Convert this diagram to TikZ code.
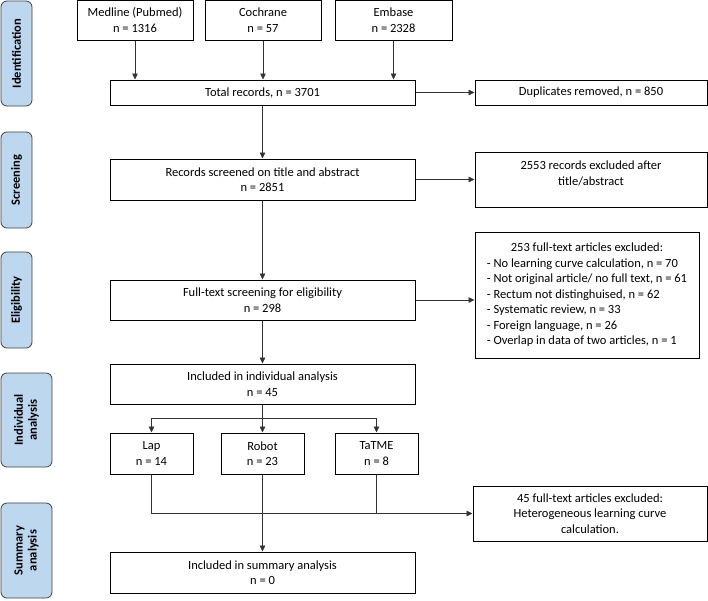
\documentclass[tikz,border=0pt]{standalone}
\usepackage{fontspec}
\setmainfont{Carlito}
\usetikzlibrary{arrows.meta}
\definecolor{stagefill}{RGB}{189,215,238}
\definecolor{stageline}{RGB}{64,64,64}

\begin{document}
\begin{tikzpicture}[x=1pt,y=-1pt,
    font=\fontsize{12.5}{15.5}\selectfont,
    box/.style={draw,line width=1pt,align=center,inner sep=1pt},
    stage/.style={draw=stageline,line width=0.8pt,fill=stagefill,rounded corners=6pt,
        rotate=90,align=center,inner sep=1pt,font=\fontsize{12.5}{14}\selectfont\bfseries},
    link/.style={draw=black!80,line width=0.6pt,-{Triangle[length=6pt,width=5.5pt]}},
    plain/.style={draw=black!80,line width=0.6pt}]
    \useasboundingbox (0,0) rectangle (708,600);

    \node[stage,minimum width=105,minimum height=31] (id) at (16.5,53.5) {Identification};
    \node[stage,minimum width=96,minimum height=31] (scr) at (16.5,180) {Screening};
    \node[stage,minimum width=96,minimum height=31] (elig) at (16.5,300) {Eligibility};
    \node[stage,minimum width=94,minimum height=51] (ind) at (26.5,420) {Individual\\analysis};
    \node[stage,minimum width=95,minimum height=51] (sum) at (26.5,550.5) {Summary\\analysis};

    \node[box,minimum width=116,minimum height=40] (medline) at (135,20) {Medline (Pubmed)\\n = 1316};
    \node[box,minimum width=116,minimum height=40] (cochrane) at (263,20) {Cochrane\\n = 57};
    \node[box,minimum width=117,minimum height=40] (embase) at (393.5,20) {Embase\\n = 2328};
    \node[box,minimum width=305,minimum height=25] (total) at (262.5,92.5) {Total records, n = 3701};
    \node[box,minimum width=232,minimum height=25] (dup) at (591,92.5) {Duplicates removed, n = 850};
    \node[box,minimum width=305,minimum height=41] (screen) at (262.5,179.5) {Records screened on title and abstract\\n = 2851};
    \node[box,minimum width=232,minimum height=55] (excla) at (591,179.5) {2553 records excluded after\\title/abstract\rule[-13pt]{0pt}{13pt}};
    \node[box,minimum width=305,minimum height=40] (full) at (262.5,300) {Full-text screening for eligibility\\n = 298};
    \node[box,minimum width=224,minimum height=126] (exclb) at (587,295) {%
        \begin{tabular}{@{}l@{}}
        \multicolumn{1}{@{}c@{}}{253 full-text articles excluded:}\\
        - No learning curve calculation, n = 70\\
        - Not original article/ no full text, n = 61\\
        - Rectum not distinghuised, n = 62\\
        - Systematic review, n = 33\\
        - Foreign language, n = 26\\
        - Overlap in data of two articles, n = 1
        \end{tabular}};
    \node[box,minimum width=305,minimum height=40] (indiv) at (262.5,384) {Included in individual analysis\\n = 45};
    \node[box,minimum width=83,minimum height=41] (lap) at (151.5,453.5) {Lap\\n = 14};
    \node[box,minimum width=83,minimum height=41] (robot) at (262.5,453.5) {Robot\\n = 23};
    \node[box,minimum width=83,minimum height=41] (tatme) at (376.5,453.5) {TaTME\\n = 8};
    \node[box,minimum width=234,minimum height=55] (exclc) at (590,513.5) {45 full-text articles excluded:\\Heterogeneous learning curve\\calculation.};
    \node[box,minimum width=305,minimum height=41] (summary) at (262.5,572.5) {Included in summary analysis\\n = 0};

    \draw[link] (medline) -- (medline.south |- total.north);
    \draw[link] (cochrane) -- (cochrane.south |- total.north);
    \draw[link] (embase) -- (embase.south |- total.north);
    \draw[link] (total) -- (dup);
    \draw[link] (total) -- (screen);
    \draw[link] (screen) -- (excla.west |- screen.east);
    \draw[link] (screen) -- (full);
    \draw[link] (full.east) -- (full.east -| exclb.west);
    \draw[link] (full) -- (indiv);

    \coordinate (split) at (262.5,418);
    \draw[link] (indiv) -- (robot);
    \draw[link] (split) -| (lap.north);
    \draw[link] (split) -| (tatme.north);

    \draw[link] (lap.south) |- (exclc.west);
    \draw[plain] (tatme.south) -- (tatme.south |- exclc.west);
    \draw[link] (robot) -- (summary);
\end{tikzpicture}
\end{document}
